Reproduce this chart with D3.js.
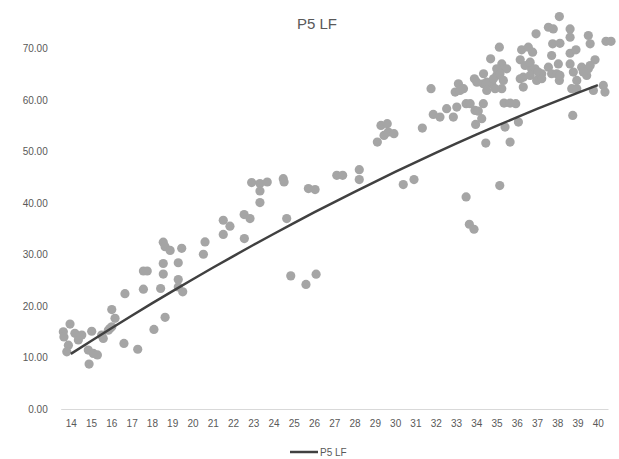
<!DOCTYPE html>
<html>
<head>
<meta charset="utf-8">
<script src="https://cdnjs.cloudflare.com/ajax/libs/d3/7.8.5/d3.min.js"></script>
<style>
    body { margin: 0; background: #fff; }
    .tick text { fill: #595959; }
</style>
</head>
<body>
<div id="chart"></div>
<script>
// chart values
var chart_title = "P5 LF";
var series_name = "P5 LF";

var categories = [14, 15, 16, 17, 18, 19, 20, 21, 22, 23, 24, 25, 26, 27,
    28, 29, 30, 31, 32, 33, 34, 35, 36, 37, 38, 39, 40];

var trend_values = [10.70, 13.21, 15.68, 18.11, 20.50, 22.84, 25.15, 27.42, 29.65,
    31.84, 33.98, 36.09, 38.16, 40.19, 42.17, 44.12, 46.03, 47.90, 49.72, 51.51,
    53.26, 54.96, 56.63, 58.26, 59.84, 61.39, 62.89];

var y_ticks = [0, 10, 20, 30, 40, 50, 60, 70];

// [age, value]
var scatter_points = [
    [13.63, 15.0], [13.66, 14.0], [13.96, 16.5], [13.88, 12.4], [13.8, 11.1], [14.2, 14.7],
    [14.37, 13.4], [14.54, 14.35], [14.86, 11.44], [15.03, 15.1], [15.11, 10.8], [15.31, 10.5],
    [14.9, 8.73], [15.52, 14.35], [15.6, 13.7], [15.85, 15.3], [15.93, 15.65], [16.02, 15.96],
    [16.18, 17.6], [16.02, 19.3], [16.62, 12.74], [16.67, 22.4], [17.3, 11.6],
    [17.58, 23.27], [17.58, 26.8], [17.77, 26.8], [18.1, 15.45], [18.43, 23.4], [18.56, 32.4],
    [18.65, 31.5], [18.9, 30.8], [18.56, 28.25], [18.56, 26.2], [18.65, 17.8], [19.3, 28.4],
    [19.3, 25.15], [19.3, 23.7], [19.47, 31.2], [19.52, 22.75], [20.54, 30.05], [20.62, 32.45],
    [21.52, 36.65], [21.85, 35.5], [21.52, 33.9], [22.55, 37.75], [22.84, 36.98], [22.56, 33.1],
    [22.92, 43.96], [23.33, 43.77], [23.69, 44.08], [23.33, 42.33], [23.33, 40.08], [24.48, 44.73],
    [24.52, 44.08], [24.65, 36.98], [24.85, 25.85], [25.6, 24.18], [26.1, 26.18], [25.72, 42.8],
    [26.05, 42.6], [27.12, 45.38], [27.41, 45.38], [28.23, 46.48], [28.23, 44.54],
    [29.12, 51.83], [29.3, 55.07], [29.61, 55.4], [29.45, 53.13], [29.66, 53.78], [29.94, 53.46],
    [30.4, 43.57], [30.93, 44.54], [31.34, 54.55], [31.77, 62.19], [31.88, 57.2], [32.21, 56.68],
    [32.54, 58.31], [32.87, 56.68], [33.04, 58.62], [32.96, 61.53], [33.12, 63.16], [33.37, 62.19],
    [33.5, 59.28], [33.94, 57.98], [33.5, 41.17], [33.66, 35.87], [33.89, 34.9], [33.2, 61.86],
    [33.91, 64.13], [34.1, 57.84], [33.97, 55.26], [34.35, 59.28], [34.35, 63.16], [34.47, 51.64],
    [34.27, 56.37], [34.76, 63.16], [35.01, 64.77], [35.26, 62.19], [35.37, 59.4], [35.67, 59.4],
    [35.95, 59.28], [35.42, 54.74], [35.67, 51.83], [36.08, 55.71], [35.16, 43.38], [35.26, 66.38],
    [34.71, 68.0], [35.26, 67.0], [35.5, 66.06], [35.01, 66.06], [35.14, 70.25], [34.03, 63.47],
    [34.36, 65.1], [34.52, 63.47], [34.85, 64.13], [35.17, 65.1], [35.34, 63.8], [34.52, 61.86],
    [34.93, 62.19], [33.7, 59.28],
    [36.32, 62.51], [36.32, 64.44], [36.73, 66.06], [36.98, 63.8], [37.23, 65.1], [36.95, 72.85],
    [37.56, 74.13], [37.8, 73.8], [36.24, 69.75], [36.57, 70.25], [36.78, 69.28], [37.77, 70.9],
    [36.17, 67.8], [36.41, 66.7], [36.66, 67.35], [36.9, 66.06], [36.17, 64.13], [36.66, 64.77],
    [37.06, 65.42], [37.72, 68.64], [37.56, 66.38], [37.72, 65.1], [37.23, 64.13],
    [38.1, 76.2], [38.13, 71.0], [38.63, 73.8], [38.63, 72.19], [39.53, 72.52], [39.62, 70.91],
    [40.4, 71.4], [40.65, 71.4], [38.63, 69.08], [38.92, 69.75], [38.63, 67.0], [37.97, 65.1],
    [38.1, 63.8], [38.05, 67.0], [38.13, 64.77], [38.79, 65.42], [38.96, 63.8], [39.2, 66.38],
    [39.53, 66.06], [39.86, 67.8], [39.45, 64.77], [38.71, 62.19], [38.96, 62.19], [39.78, 61.86],
    [40.27, 62.83], [40.35, 61.53], [38.76, 57.0], [39.62, 66.7], [39.28, 65.42]
];

var scatter_chart = (function () {

    var font = "'Liberation Sans Narrow', 'Liberation Sans', Arial, sans-serif";

    return {
        create_svg: function (placement, width, height) {
            return d3.select(placement).append("svg")
                .attr("width", width)
                .attr("height", height)
                .style("display", "block");
        },

        draw: function (placement) {
            var width = 619, height = 459;
            var svg = scatter_chart.create_svg(placement, width, height);

            var x = d3.scaleLinear()
                .domain([categories[0] - 0.5, categories[categories.length - 1] + 0.5])
                .range([60.7, 608]);

            var y = d3.scaleLinear()
                .domain([0, 70])
                .range([409, 48.5]);

            // title
            svg.append("text")
                .attr("x", 317)
                .attr("y", 29)
                .attr("text-anchor", "middle")
                .style("font-family", font)
                .style("font-size", "15px")
                .style("fill", "#595959")
                .text(chart_title);

            // y axis labels, no line
            var y_axis = svg.append("g")
                .attr("transform", "translate(60.7,0)")
                .call(d3.axisLeft(y)
                    .tickValues(y_ticks)
                    .tickSize(0)
                    .tickPadding(13)
                    .tickFormat(d3.format(".2f")));
            y_axis.select(".domain").remove();
            y_axis.selectAll("text")
                .style("font-family", font)
                .style("font-size", "10px");

            // x axis
            var x_axis = svg.append("g")
                .attr("transform", "translate(0," + y(0) + ")")
                .call(d3.axisBottom(x)
                    .tickValues(categories)
                    .tickSize(0)
                    .tickPadding(11)
                    .tickFormat(d3.format("d")));
            x_axis.select(".domain")
                .attr("stroke", "#d9d9d9")
                .attr("stroke-width", 1.2);
            x_axis.selectAll("text")
                .style("font-family", font)
                .style("font-size", "10px");

            // scatter dots
            svg.append("g").selectAll("circle")
                .data(scatter_points)
                .enter().append("circle")
                .attr("cx", function (d) {
                    return x(d[0]);
                })
                .attr("cy", function (d) {
                    return y(d[1]);
                })
                .attr("r", 4.6)
                .style("fill", "#a5a5a5");

            // trend line
            var line = d3.line()
                .x(function (d, i) {
                    return x(categories[i]);
                })
                .y(function (d) {
                    return y(d);
                })
                .curve(d3.curveMonotoneX);

            svg.append("path")
                .datum(trend_values)
                .attr("d", line)
                .attr("fill", "none")
                .attr("stroke", "#404040")
                .attr("stroke-width", 2.5);

            // legend
            var legend = svg.append("g").attr("transform", "translate(290,452)");
            legend.append("line")
                .attr("x1", 0).attr("x2", 28)
                .attr("y1", 0).attr("y2", 0)
                .attr("stroke", "#404040")
                .attr("stroke-width", 2.5);
            legend.append("text")
                .attr("x", 30)
                .attr("y", 3.5)
                .style("font-family", font)
                .style("font-size", "10px")
                .style("fill", "#595959")
                .text(series_name);
        }
    }
})();

scatter_chart.draw("#chart");
</script>
</body>
</html>
